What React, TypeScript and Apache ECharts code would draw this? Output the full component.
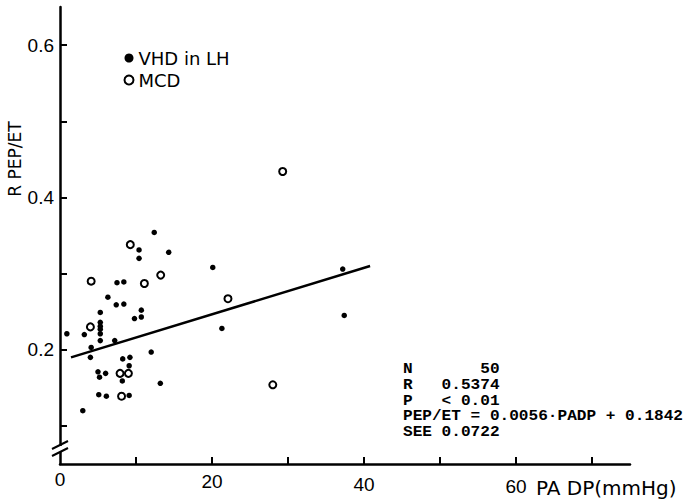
import React, { useEffect, useRef } from "react";
import * as echarts from "echarts";

// Data
const vhdPoints: [number, number][] = [
  [12.4, 0.354], [10.4, 0.331], [14.3, 0.328], [10.4, 0.32], [7.5, 0.288],
  [8.4, 0.289], [6.3, 0.269], [5.3, 0.249], [7.4, 0.259], [8.4, 0.26],
  [10.7, 0.252], [10.7, 0.243], [9.8, 0.241], [5.3, 0.236], [5.3, 0.231],
  [5.3, 0.227], [5.3, 0.221], [5.3, 0.212], [0.9, 0.221], [3.2, 0.22],
  [7.2, 0.212], [4.1, 0.203], [4.0, 0.19], [12.0, 0.197], [8.25, 0.188],
  [9.2, 0.19], [9.1, 0.179], [5.0, 0.171], [5.2, 0.164], [6.0, 0.169],
  [8.2, 0.159], [13.2, 0.156], [5.1, 0.141], [6.1, 0.139], [9.1, 0.14],
  [3.0, 0.12], [20.1, 0.308], [21.3, 0.228], [37.2, 0.306], [37.4, 0.245],
];
const mcdPoints: [number, number][] = [
  [9.25, 0.338], [4.1, 0.29], [11.1, 0.287], [13.25, 0.298], [4.0, 0.23],
  [7.9, 0.169], [9.0, 0.169], [8.1, 0.139], [29.3, 0.434], [28.0, 0.154],
  [22.1, 0.267],
];
const regressionLine: [number, number][] = [[1.45, 0.19], [40.8, 0.31]];

const xTickValues = [10, 20, 30, 40, 50, 60, 70];
const xLabelValues = [0, 20, 40, 60];
const yTickValues = [0.1, 0.2, 0.3, 0.4, 0.5, 0.6];
const yLabelValues = [0.2, 0.4, 0.6];

const seriesNames = ["VHD in LH", "MCD"];
const xAxisName = "PA DP(mmHg)";
const yAxisName = "R PEP/ET";
const statsLines = [
  "N       50",
  "R   0.5374",
  "P   < 0.01",
  "PEP/ET = 0.0056·PADP + 0.1842",
  "SEE 0.0722",
];

export default function App() {
  const ref = useRef<HTMLDivElement>(null);
  useEffect(() => {
    if (!ref.current) return;
    const chart = echarts.init(ref.current, null, { renderer: "svg" });
    const labelFont = { color: "#000", fontFamily: "Liberation Sans", fontSize: 19 };
    chart.setOption({
      animation: false,
      backgroundColor: "#fff",
      grid: { left: 60, right: 55, top: 7, bottom: 36, containLabel: false },
      legend: {
        data: seriesNames,
        orient: "vertical",
        left: 123.5,
        top: 49,
        padding: 0,
        itemWidth: 9,
        itemHeight: 9,
        itemGap: 4,
        textStyle: { color: "#000", fontFamily: "DejaVu Sans", fontSize: 18 },
      },
      xAxis: {
        type: "value",
        min: 0,
        max: 75,
        splitLine: { show: false },
        axisLine: { lineStyle: { color: "#000", width: 2.5 } },
        axisTick: {
          inside: true,
          length: 7,
          customValues: xTickValues,
          lineStyle: { color: "#000", width: 2 },
        },
        axisLabel: {
          ...labelFont,
          margin: 6,
          customValues: xLabelValues,
          formatter: (v: number) => `{l${v}|${v}}`,
          rich: {
            l0: { ...labelFont, padding: [0, 0, 0, 0] },
            l20: { ...labelFont, padding: [2, 0, 0, 0] },
            l40: { ...labelFont, padding: [5, 0, 0, 0] },
            l60: { ...labelFont, padding: [7, 0, 0, 0] },
          },
        },
      },
      yAxis: {
        type: "value",
        min: 0.05,
        max: 0.65,
        splitLine: { show: false },
        axisLine: { lineStyle: { color: "#000", width: 2.5 } },
        axisTick: {
          inside: true,
          length: 7,
          customValues: yTickValues,
          lineStyle: { color: "#000", width: 2 },
        },
        axisLabel: {
          ...labelFont,
          margin: 6,
          customValues: yLabelValues,
          formatter: (v: number) => v.toFixed(1),
        },
      },
      series: [
        {
          name: seriesNames[0],
          type: "scatter",
          data: vhdPoints,
          symbol: "circle",
          symbolSize: 5.5,
          itemStyle: { color: "#000", opacity: 1 },
        },
        {
          name: seriesNames[1],
          type: "scatter",
          data: mcdPoints,
          symbol: "circle",
          symbolSize: 7,
          itemStyle: { color: "#fff", borderColor: "#000", borderWidth: 2, opacity: 1 },
        },
        {
          name: "regression",
          type: "line",
          data: regressionLine,
          symbol: "none",
          lineStyle: { color: "#000", width: 2.5 },
          z: 1,
        },
      ],
      graphic: [
        {
          type: "rect",
          shape: { x: 55, y: 446, width: 11, height: 6 },
          style: { fill: "#fff" },
          z: 100,
        },
        {
          type: "line",
          shape: { x1: 52, y1: 449, x2: 68, y2: 441 },
          style: { stroke: "#000", lineWidth: 2 },
          z: 101,
        },
        {
          type: "line",
          shape: { x1: 52, y1: 456, x2: 68, y2: 448 },
          style: { stroke: "#000", lineWidth: 2 },
          z: 101,
        },
        {
          type: "text",
          x: 15,
          y: 159,
          rotation: Math.PI / 2,
          style: {
            text: yAxisName,
            fill: "#000",
            font: "17px 'DejaVu Sans'",
            align: "center",
            verticalAlign: "middle",
          },
        },
        {
          type: "text",
          x: 536,
          y: 488,
          style: {
            text: xAxisName,
            fill: "#000",
            font: "20px 'DejaVu Sans'",
            align: "left",
            verticalAlign: "middle",
          },
        },
        ...statsLines.map((line, i) => ({
          type: "text",
          x: 403,
          y: 369 + i * 15.9,
          scaleX: 1.15,
          style: {
            text: line,
            fill: "#000",
            font: "bold 14px 'Liberation Mono'",
            align: "left",
            verticalAlign: "middle",
          },
        })),
      ],
    });
    return () => chart.dispose();
  }, []);
  return (
    <div
      ref={ref}
      style={{ position: "fixed", left: 0, top: 0, width: 685, height: 500, background: "#fff" }}
    />
  );
}
